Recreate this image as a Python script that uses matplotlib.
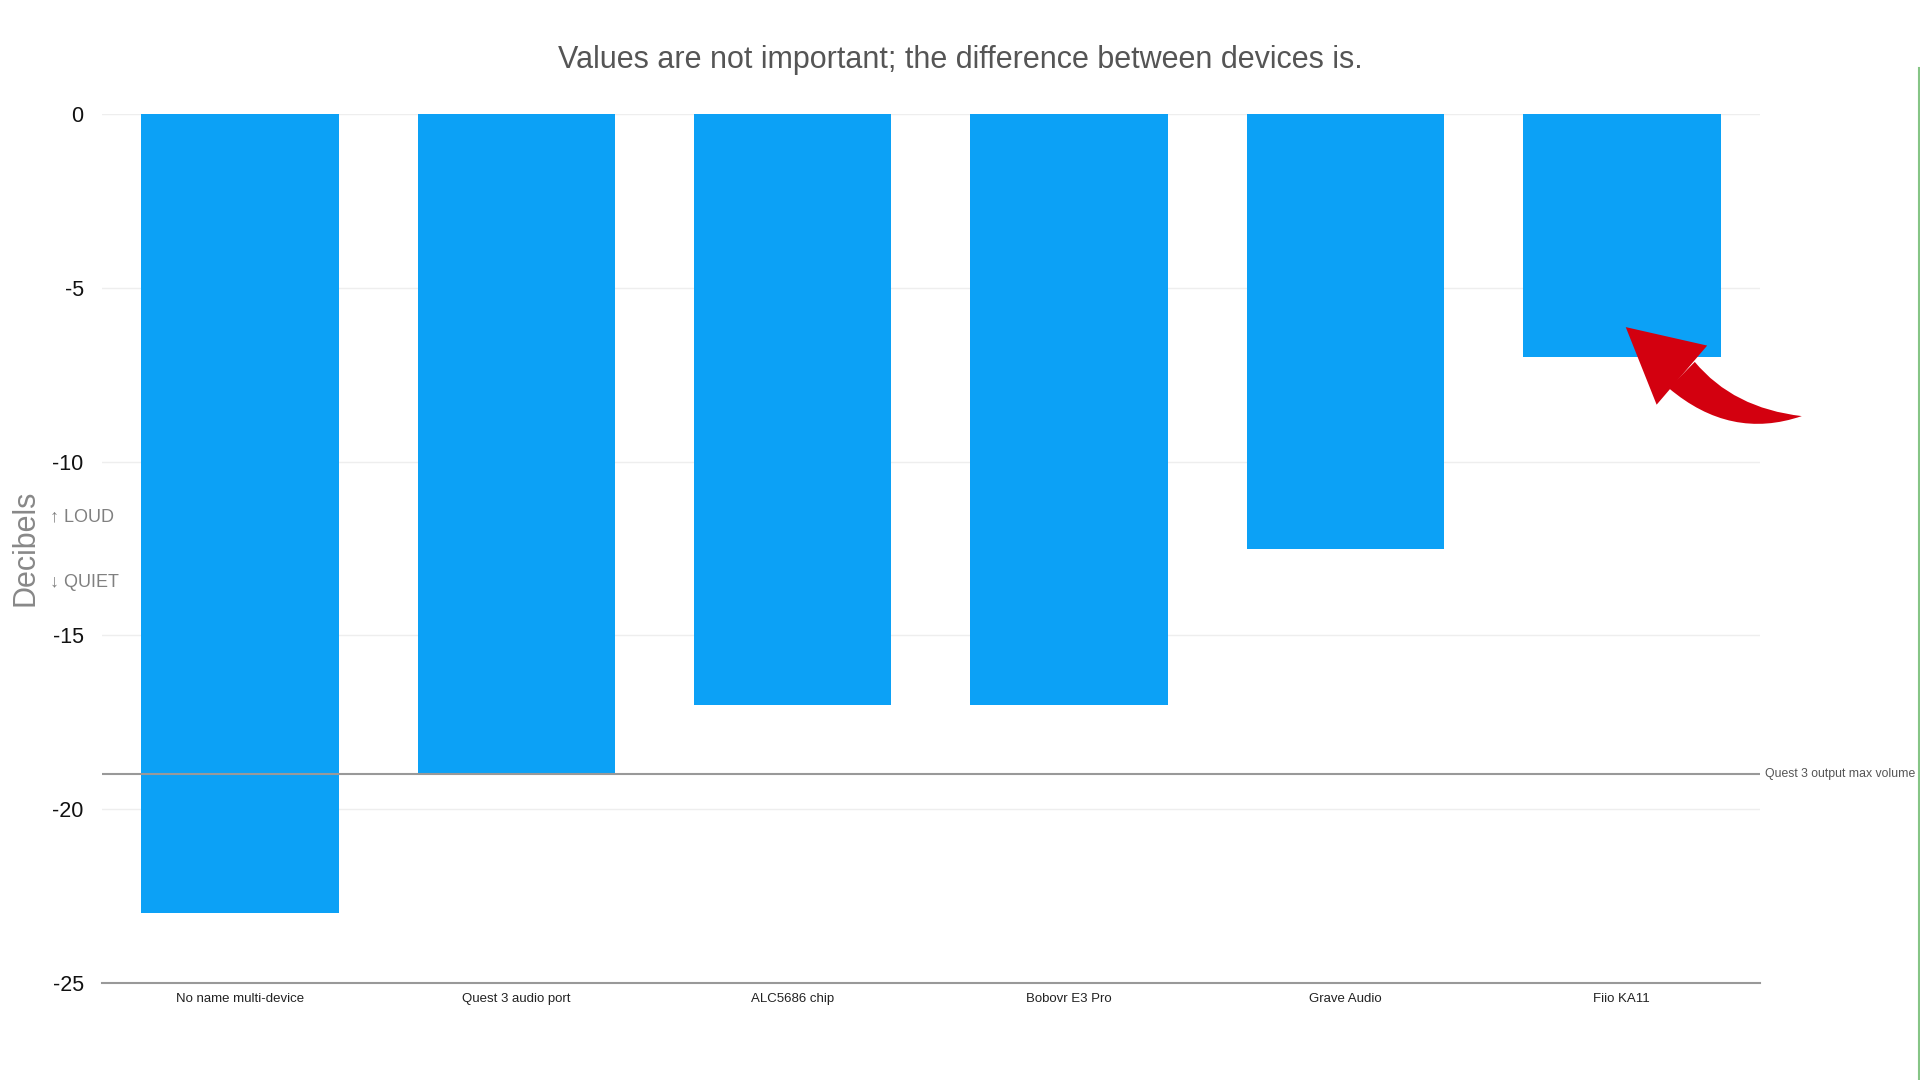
import matplotlib
matplotlib.use("Agg")
import matplotlib.pyplot as plt
from matplotlib.patches import FancyArrowPatch
from matplotlib.lines import Line2D

plt.rcParams["font.family"] = ["Liberation Sans", "DejaVu Sans"]

devices = [
    "No name multi-device",
    "Quest 3 audio port",
    "ALC5686 chip",
    "Bobovr E3 Pro",
    "Grave Audio",
    "Fiio KA11",
]
decibels = [-23, -19, -17, -17, -12.5, -7]
yticks = [0, -5, -10, -15, -20, -25]
ref_level = -19
ref_label = "Quest 3 output max volume"
title = "Values are not important; the difference between devices is."

BAR_COLOR = "#0ca1f6"
ARROW_COLOR = "#d3000f"

fig = plt.figure(figsize=(19.2, 10.8), dpi=100)
ax = fig.add_axes([0.053, 0.0898, 0.8637, 0.8046])

x = range(len(devices))
ax.bar(x, decibels, width=0.714, color=BAR_COLOR, zorder=2)

ax.set_xlim(-0.5, len(devices) - 0.5)
ax.set_ylim(-25, 0)
ax.set_yticks(yticks)
ax.set_yticklabels([str(t) for t in yticks], fontsize=15.5, color="#111111")
ax.set_xticks(list(x))
ax.set_xticklabels(devices, fontsize=9.5, color="#222222")
ax.tick_params(axis="both", length=0)
ax.tick_params(axis="y", pad=13)
ax.tick_params(axis="x", pad=7)

for t in yticks[:-1]:
    ax.axhline(t, color="#eeeeee", lw=1, zorder=0)
for side in ["top", "right", "left"]:
    ax.spines[side].set_visible(False)
ax.spines["bottom"].set_color("#999999")
ax.spines["bottom"].set_linewidth(1.5)

# reference line
ax.axhline(ref_level, color="#999999", lw=1.5, zorder=3)
ax.text(1.003, ref_level, ref_label, transform=ax.get_yaxis_transform(),
        ha="left", va="center", fontsize=8.8, color="#555555", clip_on=False)

fig.text(0.5, 0.944, title, ha="center", va="center", fontsize=22,
         color="#555555", family=["Liberation Sans Narrow", "Liberation Sans"])

fig.text(0.0135, 0.493, "Decibels", rotation=90, ha="center", va="center",
         fontsize=22, color="#888888")
fig.text(0.026, 0.521, "\u2191 LOUD", ha="left", va="center", fontsize=13,
         color="#808080", family=["Liberation Sans", "DejaVu Sans"])
fig.text(0.026, 0.461, "\u2193 QUIET", ha="left", va="center", fontsize=13,
         color="#808080", family=["Liberation Sans", "DejaVu Sans"])

# red arrow pointing at the last bar: tapered curved body + triangular head
tip = (5.014, -6.13)
head_base = (5.217, -7.51)
tail = (5.651, -8.69)
body = FancyArrowPatch(
    head_base, tail,
    arrowstyle="wedge,tail_width=1.9,shrink_factor=0.65",
    connectionstyle="arc3,rad=0.24",
    mutation_scale=14, color=ARROW_COLOR, lw=0,
    shrinkA=0, shrinkB=0, zorder=5, clip_on=False,
)
ax.add_patch(body)
head = FancyArrowPatch(
    head_base, tip,
    arrowstyle="simple,head_length=3.8,head_width=4.0,tail_width=0.2",
    mutation_scale=14, color=ARROW_COLOR, lw=0,
    shrinkA=0, shrinkB=0, zorder=6, clip_on=False,
)
ax.add_patch(head)

# thin green edge line at the right border
fig.add_artist(Line2D([0.9995, 0.9995], [0.0, 0.937], color="#86c586", lw=1.5))

fig.savefig("out.png", dpi=100, facecolor="white")
